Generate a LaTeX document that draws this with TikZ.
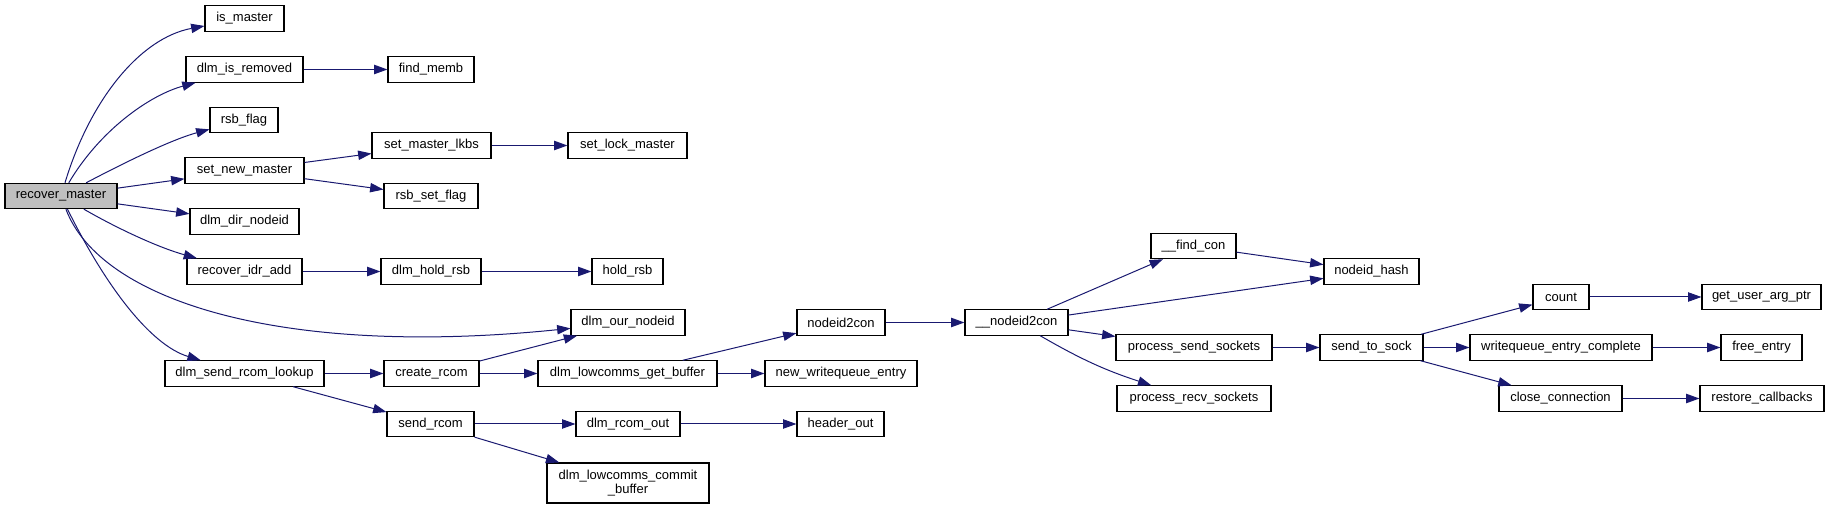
\documentclass[tikz,border=0pt]{standalone}
\usepackage{fontspec}
\setmainfont{Liberation Sans}
\usepackage{xcolor}
\usepackage{tikz}
\usetikzlibrary{arrows.meta, positioning}
\definecolor{callblue}{RGB}{25,25,112}
\definecolor{rootgray}{RGB}{191,191,191}
\tikzstyle{fnnode} = [draw=black, rectangle, line width=0.8pt, inner sep=0pt, minimum height=19pt, font=\fontsize{9.75}{11}\selectfont, fill=white]
\tikzstyle{callarrow} = [line width=0.75pt, color=callblue, -{Triangle[length=10pt, width=7pt]}]

\begin{document}
\begin{tikzpicture}[x=0.75pt, y=0.75pt]
    \useasboundingbox (0,0) rectangle (1829,-509);

    % Root and first level
    \node (rm) [fnnode, fill=rootgray, minimum width=84pt] at (61,-196) {recover\_master};
    \node (ism) [fnnode, minimum width=59.25pt] at (244.5,-18.5) {is\_master};
    \node (isr) [fnnode, minimum width=87.75pt] at (244.5,-69.5) {dlm\_is\_removed};
    \node (rfl) [fnnode, minimum width=51pt] at (244,-120) {rsb\_flag};
    \node (snm) [fnnode, minimum width=89.25pt] at (244.5,-170.5) {set\_new\_master};
    \node (dni) [fnnode, minimum width=81.75pt] at (244.5,-221.5) {dlm\_dir\_nodeid};
    \node (ria) [fnnode, minimum width=86.25pt] at (244.5,-271.5) {recover\_idr\_add};
    \node (srl) [fnnode, minimum width=119.25pt] at (244.5,-373.5) {dlm\_send\_rcom\_lookup};

    % Second level
    \node (fmb) [fnnode, minimum width=64.5pt] at (431,-69.5) {find\_memb};
    \node (sml) [fnnode, minimum width=89.25pt] at (431.5,-145.5) {set\_master\_lkbs};
    \node (rsf) [fnnode, minimum width=70.5pt] at (431,-196) {rsb\_set\_flag};
    \node (dhr) [fnnode, minimum width=75pt] at (431,-271.5) {dlm\_hold\_rsb};
    \node (crc) [fnnode, minimum width=71.25pt] at (431.5,-373.5) {create\_rcom};
    \node (src) [fnnode, minimum width=65.25pt] at (430.5,-424) {send\_rcom};

    % Third level
    \node (slm) [fnnode, minimum width=89.25pt] at (627.5,-145.5) {set\_lock\_master};
    \node (hrs) [fnnode, minimum width=53.25pt] at (627.5,-271.5) {hold\_rsb};
    \node (don) [fnnode, minimum width=85.5pt] at (628,-322.5) {dlm\_our\_nodeid};
    \node (gbf) [fnnode, minimum width=134.25pt] at (627.5,-373.5) {dlm\_lowcomms\_get\_buffer};
    \node (rco) [fnnode, minimum width=78pt] at (628,-424) {dlm\_rcom\_out};
    \node (cbf) [fnnode, minimum width=121.5pt, minimum height=30pt, align=center] at (628,-483) {dlm\_lowcomms\_commit\\\_buffer};

    % Fourth level
    \node (n2c) [fnnode, minimum width=66pt] at (841,-322.5) {nodeid2con};
    \node (nwe) [fnnode, minimum width=114pt] at (841,-373.5) {new\_writequeue\_entry};
    \node (hdo) [fnnode, minimum width=65.25pt] at (840.5,-424) {header\_out};

    % Connection handling
    \node (unc) [fnnode, minimum width=77.25pt] at (1016.5,-322.5) {\_\_nodeid2con};
    \node (fcn) [fnnode, minimum width=63.75pt] at (1193.5,-246) {\_\_find\_con};
    \node (nhs) [fnnode, minimum width=71.25pt] at (1371.5,-271.5) {nodeid\_hash};
    \node (pss) [fnnode, minimum width=117pt] at (1194,-347.5) {process\_send\_sockets};
    \node (prs) [fnnode, minimum width=115.5pt] at (1194,-398.5) {process\_recv\_sockets};
    \node (sts) [fnnode, minimum width=77.25pt] at (1371.5,-347.5) {send\_to\_sock};
    \node (cnt) [fnnode, minimum width=42pt] at (1561,-297) {count};
    \node (wec) [fnnode, minimum width=136.5pt] at (1561,-347.5) {writequeue\_entry\_complete};
    \node (ccn) [fnnode, minimum width=92.25pt] at (1560.5,-398.5) {close\_connection};
    \node (gua) [fnnode, minimum width=89.25pt] at (1761.5,-297) {get\_user\_arg\_ptr};
    \node (fen) [fnnode, minimum width=60.75pt] at (1761.5,-347.5) {free\_entry};
    \node (rcb) [fnnode, minimum width=93pt] at (1762,-398.5) {restore\_callbacks};

    % Calls from the root
    \draw [callarrow] (rm) .. controls (90,-100) and (140,-38) .. (ism);
    \draw [callarrow] (rm) .. controls (100,-130) and (150,-95) .. (isr);
    \draw [callarrow] (rm) .. controls (120,-165) and (170,-140) .. (rfl);
    \draw [callarrow] (rm) -- (snm);
    \draw [callarrow] (rm) -- (dni);
    \draw [callarrow] (rm) .. controls (120,-230) and (160,-248) .. (ria);
    \draw [callarrow] (rm) .. controls (100,-300) and (280,-358) .. (don);
    \draw [callarrow] (rm) .. controls (105,-285) and (150,-345) .. (srl);

    % Further calls
    \draw [callarrow] (isr) -- (fmb);
    \draw [callarrow] (snm) -- (sml);
    \draw [callarrow] (snm) -- (rsf);
    \draw [callarrow] (sml) -- (slm);
    \draw [callarrow] (ria) -- (dhr);
    \draw [callarrow] (dhr) -- (hrs);
    \draw [callarrow] (srl) -- (crc);
    \draw [callarrow] (srl) -- (src);
    \draw [callarrow] (crc) -- (don);
    \draw [callarrow] (crc) -- (gbf);
    \draw [callarrow] (src) -- (rco);
    \draw [callarrow] (src) -- (cbf);
    \draw [callarrow] (gbf) -- (n2c);
    \draw [callarrow] (gbf) -- (nwe);
    \draw [callarrow] (rco) -- (hdo);
    \draw [callarrow] (n2c) -- (unc);
    \draw [callarrow] (unc) -- (fcn);
    \draw [callarrow] (unc) -- (nhs);
    \draw [callarrow] (fcn) -- (nhs);
    \draw [callarrow] (unc) -- (pss);
    \draw [callarrow] (unc) to[bend right=6] (prs);
    \draw [callarrow] (pss) -- (sts);
    \draw [callarrow] (sts) -- (cnt);
    \draw [callarrow] (sts) -- (wec);
    \draw [callarrow] (sts) -- (ccn);
    \draw [callarrow] (cnt) -- (gua);
    \draw [callarrow] (wec) -- (fen);
    \draw [callarrow] (ccn) -- (rcb);
\end{tikzpicture}
\end{document}
